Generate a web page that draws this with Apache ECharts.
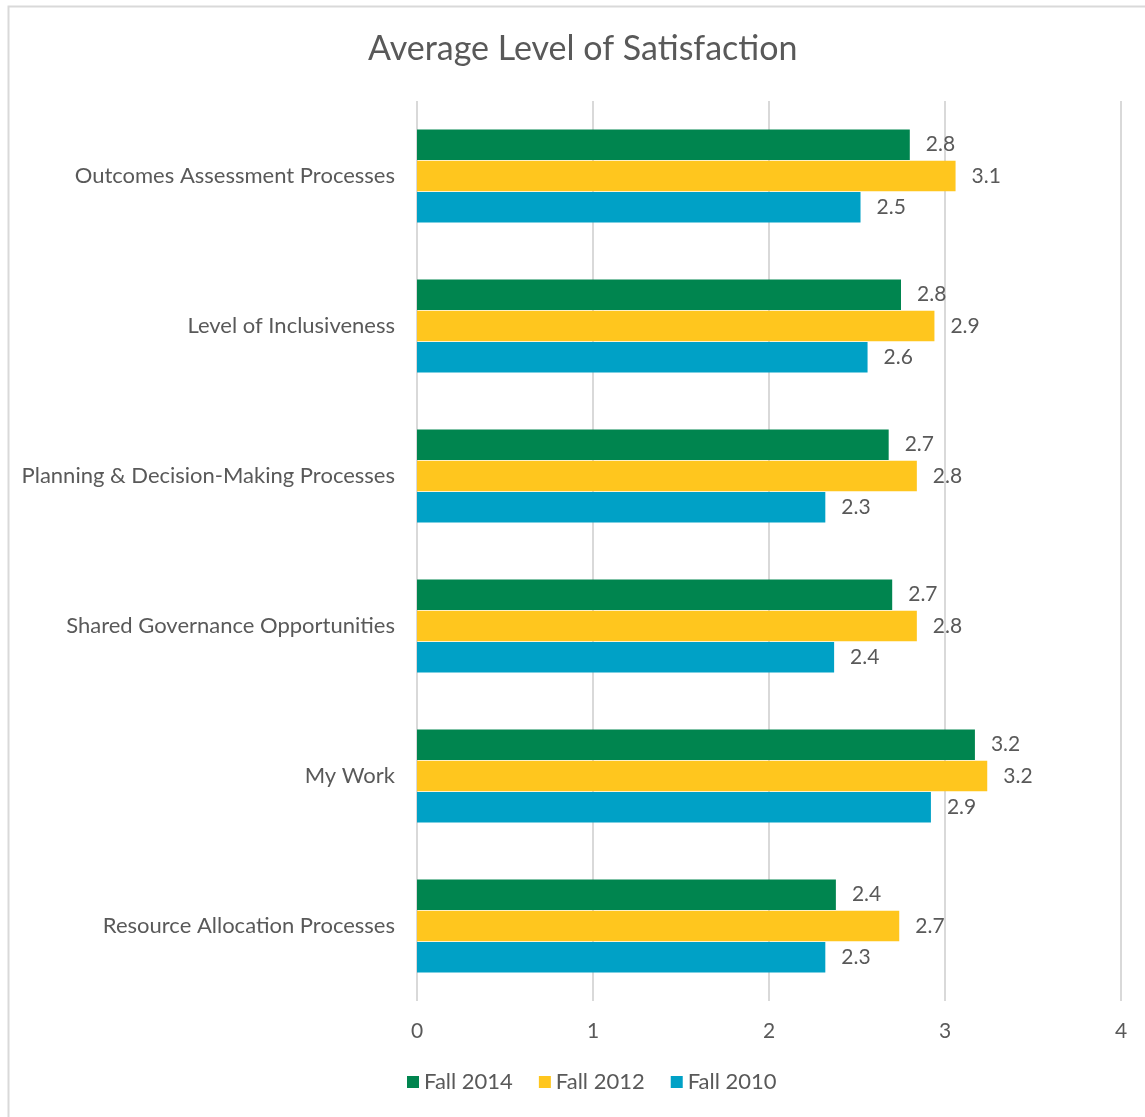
<!DOCTYPE html>
<html>
<head>
<meta charset="utf-8">
<script src="https://cdn.jsdelivr.net/npm/echarts@6/dist/echarts.min.js"></script>
<style>
  html, body { margin: 0; padding: 0; background: #ffffff; }
  #chart { width: 1145px; height: 1117px; }
</style>
</head>
<body>
<div id="chart"></div>
<script>
// Survey topics, top to bottom
const categories = [
  'Outcomes Assessment Processes',
  'Level of Inclusiveness',
  'Planning & Decision-Making Processes',
  'Shared Governance Opportunities',
  'My Work',
  'Resource Allocation Processes'
];

// Average satisfaction per survey wave
const fall2014 = [2.80, 2.75, 2.68, 2.70, 3.17, 2.38];
const fall2012 = [3.06, 2.94, 2.84, 2.84, 3.24, 2.74];
const fall2010 = [2.52, 2.56, 2.32, 2.37, 2.92, 2.32];

const seriesNames = ['Fall 2014', 'Fall 2012', 'Fall 2010'];
const seriesColors = ['#00854F', '#FFC61E', '#00A1C6'];

// X axis range and step
const axisMin = 0;
const axisMax = 4;
const axisStep = 1;

const FONT = 'Lato';
const TEXT = '#595959';

const chart = echarts.init(document.getElementById('chart'));

const makeSeries = (name, data, color) => ({
  name: name,
  type: 'bar',
  data: data,
  barGap: '3%',
  barCategoryGap: '38%',
  itemStyle: { color: color },
  label: {
    show: true,
    position: 'right',
    distance: 16,
    color: TEXT,
    fontFamily: FONT,
    fontSize: 21,
    formatter: p => p.value.toFixed(1)
  }
});

chart.setOption({
  backgroundColor: '#ffffff',
  animation: false,
  title: {
    text: 'Average Level of Satisfaction',
    left: 363,
    top: 27,
    textStyle: { color: TEXT, fontFamily: FONT, fontSize: 34, fontWeight: 'normal' }
  },
  graphic: [{
    type: 'rect',
    left: 6, top: 4,
    shape: { width: 1300, height: 1300 },
    style: { fill: 'none', stroke: '#d9d9d9', lineWidth: 2 },
    silent: true
  }],
  legend: {
    data: seriesNames,
    bottom: 19,
    left: 402,
    itemWidth: 12,
    itemHeight: 12,
    itemGap: 26,
    icon: 'rect',
    textStyle: { color: TEXT, fontFamily: FONT, fontSize: 22, padding: [0, 0, 0, 0] }
  },
  grid: { left: 417, right: 24, top: 101, bottom: 116 },
  xAxis: {
    type: 'value',
    min: axisMin,
    max: axisMax,
    interval: axisStep,
    axisLine: { show: false },
    axisTick: { show: false },
    axisLabel: { color: TEXT, fontFamily: FONT, fontSize: 21, margin: 20 },
    splitLine: { show: true, lineStyle: { color: '#d9d9d9', width: 2 } }
  },
  yAxis: {
    type: 'category',
    data: categories,
    inverse: true,
    axisLine: { show: false },
    axisTick: { show: false },
    axisLabel: { color: TEXT, fontFamily: FONT, fontSize: 22, margin: 22 }
  },
  series: [
    makeSeries(seriesNames[0], fall2014, seriesColors[0]),
    makeSeries(seriesNames[1], fall2012, seriesColors[1]),
    makeSeries(seriesNames[2], fall2010, seriesColors[2])
  ]
});
</script>
</body>
</html>
